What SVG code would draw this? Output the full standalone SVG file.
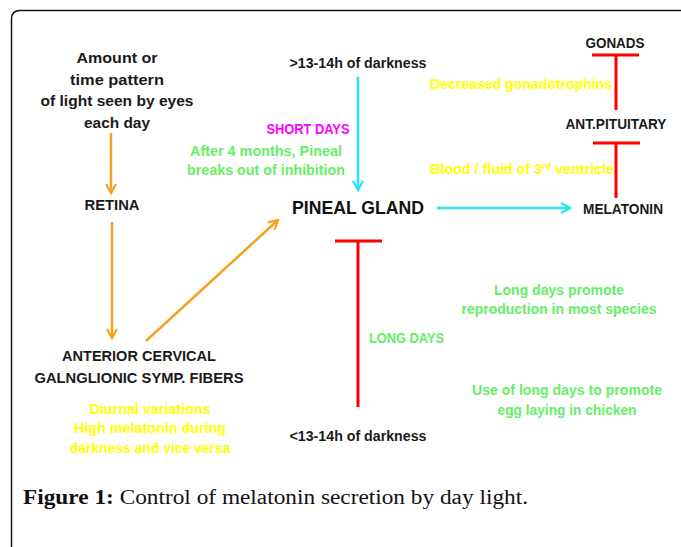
<svg xmlns="http://www.w3.org/2000/svg" width="681" height="547" viewBox="0 0 681 547">
<defs>
<style>
.t{font-family:"Liberation Sans",Arial,sans-serif;font-weight:bold;text-anchor:middle}
.k{fill:#1a1a1a;font-size:15px}
.y{fill:#FFFF00;font-size:14px}
.g{fill:#66EE66;font-size:14px}
.m{fill:#FF00FF;font-size:14px}
.or{stroke:#F7A020;stroke-width:2.5;fill:none}
.cy{stroke:#22E6F2;stroke-width:2.5;fill:none}
.rd{stroke:#FF0000;stroke-width:3;fill:none}
</style>
<marker id="ao" viewBox="0 0 12 12" refX="10" refY="6" markerWidth="12" markerHeight="12" markerUnits="userSpaceOnUse" orient="auto"><path d="M1,1 L10,6 L1,11" fill="none" stroke="#F7A020" stroke-width="2.2"/></marker>
<marker id="ac" viewBox="0 0 12 12" refX="10" refY="6" markerWidth="12" markerHeight="12" markerUnits="userSpaceOnUse" orient="auto"><path d="M1,1 L10,6 L1,11" fill="none" stroke="#22E6F2" stroke-width="2.2"/></marker>
</defs>
<rect width="681" height="547" fill="#fff"/>
<path d="M11.5,560 L11.5,19 Q11.5,10.5 20,10.5 L700,10.5" fill="none" stroke="#111" stroke-width="1.5"/>
<g id="connectors">
<line class="or" x1="111" y1="133" x2="111" y2="193" marker-end="url(#ao)"/>
<line class="or" x1="112" y1="222" x2="112" y2="338" marker-end="url(#ao)"/>
<line class="or" x1="146" y1="341" x2="278" y2="220" marker-end="url(#ao)"/>
<line class="cy" x1="358" y1="77" x2="358" y2="190" marker-end="url(#ac)"/>
<line class="cy" x1="437" y1="208" x2="570" y2="208" marker-end="url(#ac)"/>
<path class="rd" d="M616,198 V143 M593,143 H640"/>
<path class="rd" d="M616,110 V55 M592,55 H639"/>
<path class="rd" d="M358,407 V241 M335,241 H382"/>
</g>
<g id="light">
<text class="t k" x="117" y="63" textLength="81" lengthAdjust="spacingAndGlyphs">Amount or</text>
<text class="t k" x="117" y="85" textLength="94" lengthAdjust="spacingAndGlyphs">time pattern</text>
<text class="t k" x="117" y="106" textLength="153" lengthAdjust="spacingAndGlyphs">of light seen by eyes</text>
<text class="t k" x="117" y="128" textLength="66" lengthAdjust="spacingAndGlyphs">each day</text>
</g>
<g id="retina"><text class="t k" x="112" y="210" textLength="55" lengthAdjust="spacingAndGlyphs">RETINA</text></g>
<g id="fibers">
<text class="t k" x="139" y="361" font-size="14" textLength="154" lengthAdjust="spacingAndGlyphs">ANTERIOR CERVICAL</text>
<text class="t k" x="139" y="383" font-size="14" textLength="209" lengthAdjust="spacingAndGlyphs">GALNGLIONIC SYMP. FIBERS</text>
</g>
<g id="diurnal">
<text class="t y" x="150" y="414" textLength="121" lengthAdjust="spacingAndGlyphs">Diurnal variations</text>
<text class="t y" x="150" y="433" textLength="152" lengthAdjust="spacingAndGlyphs">High melatonin during</text>
<text class="t y" x="150" y="453" textLength="161" lengthAdjust="spacingAndGlyphs">darkness and vice versa</text>
</g>
<g id="dark-long"><text class="t k" x="358" y="68" style="font-size:14px" textLength="137" lengthAdjust="spacingAndGlyphs">&gt;13-14h of darkness</text></g>
<g id="short-days">
<text class="t m" x="308" y="134" textLength="83" lengthAdjust="spacingAndGlyphs">SHORT DAYS</text>
<text class="t g" x="266" y="156" textLength="152" lengthAdjust="spacingAndGlyphs">After 4 months, Pineal</text>
<text class="t g" x="266" y="175" textLength="158" lengthAdjust="spacingAndGlyphs">breaks out of inhibition</text>
</g>
<g id="pineal"><text class="t" x="358" y="214" style="font-size:18px;fill:#111" textLength="132" lengthAdjust="spacingAndGlyphs">PINEAL GLAND</text></g>
<g id="melatonin"><text class="t k" x="623" y="214" style="font-size:14px" textLength="80" lengthAdjust="spacingAndGlyphs">MELATONIN</text></g>
<g id="pituitary"><text class="t k" x="616" y="129" style="font-size:14px" textLength="101" lengthAdjust="spacingAndGlyphs">ANT.PITUITARY</text></g>
<g id="gonads"><text class="t k" x="615" y="48" style="font-size:14px" textLength="59" lengthAdjust="spacingAndGlyphs">GONADS</text></g>
<g id="labels-right">
<text class="t y" x="521" y="89" textLength="182" lengthAdjust="spacingAndGlyphs">Decreased gonadotrophins</text>
<text class="t y" x="430" y="174" style="text-anchor:start" textLength="184" lengthAdjust="spacingAndGlyphs">Blood / fluid of 3<tspan font-size="9" dy="-5">rd</tspan><tspan dy="5"> ventricle</tspan></text>
</g>
<g id="long-days"><text class="t g" x="369" y="343" style="text-anchor:start" textLength="75" lengthAdjust="spacingAndGlyphs">LONG DAYS</text></g>
<g id="dark-short"><text class="t k" x="358" y="441" style="font-size:14px" textLength="137" lengthAdjust="spacingAndGlyphs">&lt;13-14h of darkness</text></g>
<g id="reproduction">
<text class="t g" x="559" y="295" textLength="130" lengthAdjust="spacingAndGlyphs">Long days promote</text>
<text class="t g" x="559" y="314" textLength="195" lengthAdjust="spacingAndGlyphs">reproduction in most species</text>
</g>
<g id="chicken">
<text class="t g" x="567" y="395" textLength="190" lengthAdjust="spacingAndGlyphs">Use of long days to promote</text>
<text class="t g" x="567" y="415" textLength="139" lengthAdjust="spacingAndGlyphs">egg laying in chicken</text>
</g>
<text x="23" y="504" font-family="Liberation Serif,'Times New Roman',serif" font-size="20" fill="#111" textLength="505" lengthAdjust="spacingAndGlyphs"><tspan font-weight="bold">Figure 1:</tspan> Control of melatonin secretion by day light.</text>
</svg>
